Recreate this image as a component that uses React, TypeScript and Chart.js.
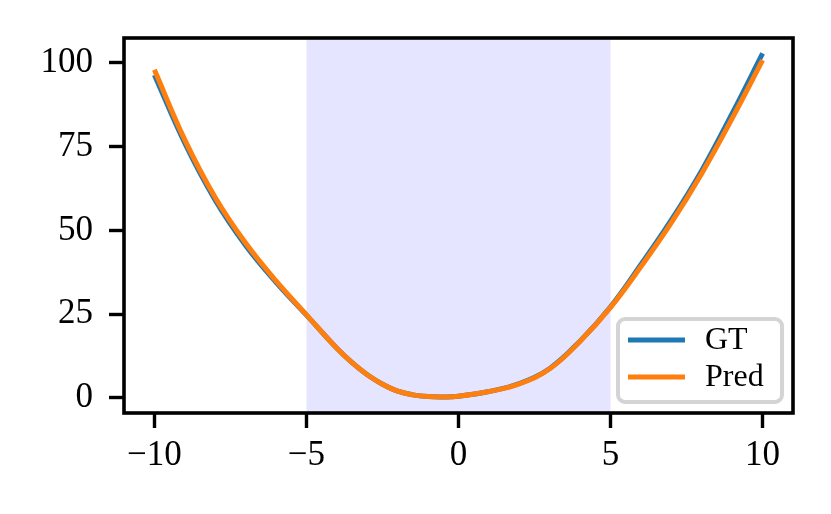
import { useEffect, useRef } from "react";
import { Chart, registerables } from "chart.js";

Chart.register(...registerables);

const xValues = [-10, -9, -8, -7, -6, -5, -4, -3.5, -3, -2.5, -2, -1.5, -1, -0.5, 0, 1, 2, 3, 4, 5, 6, 7, 8, 9, 10];
const gtValues = [96.4, 76.0, 59.0, 45.5, 34.5, 24.7, 14.8, 10.5, 6.9, 4.1, 2.0, 0.9, 0.4, 0.3, 0.5, 1.9, 4.3, 8.8, 17.0, 27.2, 39.8, 53.1, 67.9, 84.9, 102.8];
const predValues = [97.9, 77.0, 59.8, 46.2, 34.9, 24.8, 14.8, 10.5, 6.9, 4.1, 2.0, 0.9, 0.4, 0.3, 0.5, 1.9, 4.2, 8.7, 16.9, 27.0, 39.2, 52.3, 67.0, 83.4, 100.8];
const xTicks = [-10, -5, 0, 5, 10];
const yTicks = [0, 25, 50, 75, 100];
const shadeRange = [-5, 5];
const seriesLabels = ["GT", "Pred"];
const seriesColors = ["#1f77b4", "#ff7f0e"];

const FONT = "'Liberation Serif', 'DejaVu Serif', serif";

const fmt = (v: number) => (v < 0 ? "\u2212" + Math.abs(v) : String(v));

const decor = {
  id: "decor",
  beforeDatasetsDraw(chart: any) {
    const { ctx, chartArea, scales } = chart;
    const x0 = scales.x.getPixelForValue(shadeRange[0]);
    const x1 = scales.x.getPixelForValue(shadeRange[1]);
    ctx.save();
    ctx.fillStyle = "rgba(0,0,255,0.1)";
    ctx.fillRect(x0, chartArea.top, x1 - x0, chartArea.bottom - chartArea.top);
    ctx.restore();
  },
  afterDraw(chart: any) {
    const { ctx, chartArea: ca } = chart;
    ctx.save();
    ctx.strokeStyle = "#000";
    ctx.lineWidth = 3.6;
    ctx.strokeRect(ca.left, ca.top, ca.right - ca.left, ca.bottom - ca.top);
    const w = 164;
    const h = 83;
    const bx = ca.right - 11 - w;
    const by = ca.bottom - 11 - h;
    ctx.beginPath();
    ctx.roundRect(bx, by, w, h, 7);
    ctx.fillStyle = "rgba(255,255,255,0.8)";
    ctx.fill();
    ctx.strokeStyle = "#d4d4d4";
    ctx.lineWidth = 4;
    ctx.stroke();
    chart.data.datasets.forEach((ds: any, i: number) => {
      const y = by + 21 + i * 37;
      ctx.beginPath();
      ctx.strokeStyle = ds.borderColor;
      ctx.lineWidth = 5;
      ctx.moveTo(bx + 10, y);
      ctx.lineTo(bx + 67, y);
      ctx.stroke();
      ctx.fillStyle = "#000";
      ctx.font = `32px ${FONT}`;
      ctx.textAlign = "left";
      ctx.textBaseline = "middle";
      ctx.fillText(ds.label, bx + 87, y + 1);
    });
    ctx.restore();
  },
};

export default function App() {
  const ref = useRef<HTMLCanvasElement | null>(null);
  useEffect(() => {
    if (!ref.current) return;
    const mk = (i: number, vals: number[], order: number) => ({
      label: seriesLabels[i],
      data: xValues.map((x, k) => ({ x, y: vals[k] })),
      borderColor: seriesColors[i],
      borderWidth: 5,
      pointRadius: 0,
      tension: 0.4,
      fill: false,
      order,
    });
    const chart = new Chart(ref.current, {
      type: "line",
      data: { datasets: [mk(0, gtValues, 2), mk(1, predValues, 1)] },
      options: {
        animation: false,
        responsive: false,
        devicePixelRatio: 1,
        layout: { padding: { top: 38, right: 38, left: 0, bottom: 0 } },
        plugins: { legend: { display: false }, tooltip: { enabled: false } },
        scales: {
          x: {
            type: "linear",
            min: -11,
            max: 11,
            afterBuildTicks: (s: any) => {
              s.ticks = xTicks.map((v) => ({ value: v }));
            },
            afterFit: (s: any) => {
              s.height = 101;
            },
            grid: { drawOnChartArea: false, drawTicks: true, tickLength: 15, tickWidth: 3.4, tickColor: "#000" },
            border: { display: false },
            ticks: {
              color: "#000",
              font: { family: FONT, size: 35 },
              padding: 7,
              maxRotation: 0,
              callback: (v: any) => fmt(Number(v)),
            },
          },
          y: {
            type: "linear",
            min: -4.5,
            max: 107.4,
            afterBuildTicks: (s: any) => {
              s.ticks = yTicks.map((v) => ({ value: v }));
            },
            afterFit: (s: any) => {
              s.width = 124;
            },
            grid: { drawOnChartArea: false, drawTicks: true, tickLength: 15, tickWidth: 3.4, tickColor: "#000" },
            border: { display: false },
            ticks: {
              color: "#000",
              font: { family: FONT, size: 35 },
              padding: 16,
              callback: (v: any) => fmt(Number(v)),
            },
          },
        },
      },
      plugins: [decor],
    } as any);
    return () => chart.destroy();
  }, []);
  return (
    <div style={{ position: "fixed", left: 0, top: 0, width: 831, height: 514, background: "#fff" }}>
      <canvas ref={ref} width={831} height={514} />
    </div>
  );
}
